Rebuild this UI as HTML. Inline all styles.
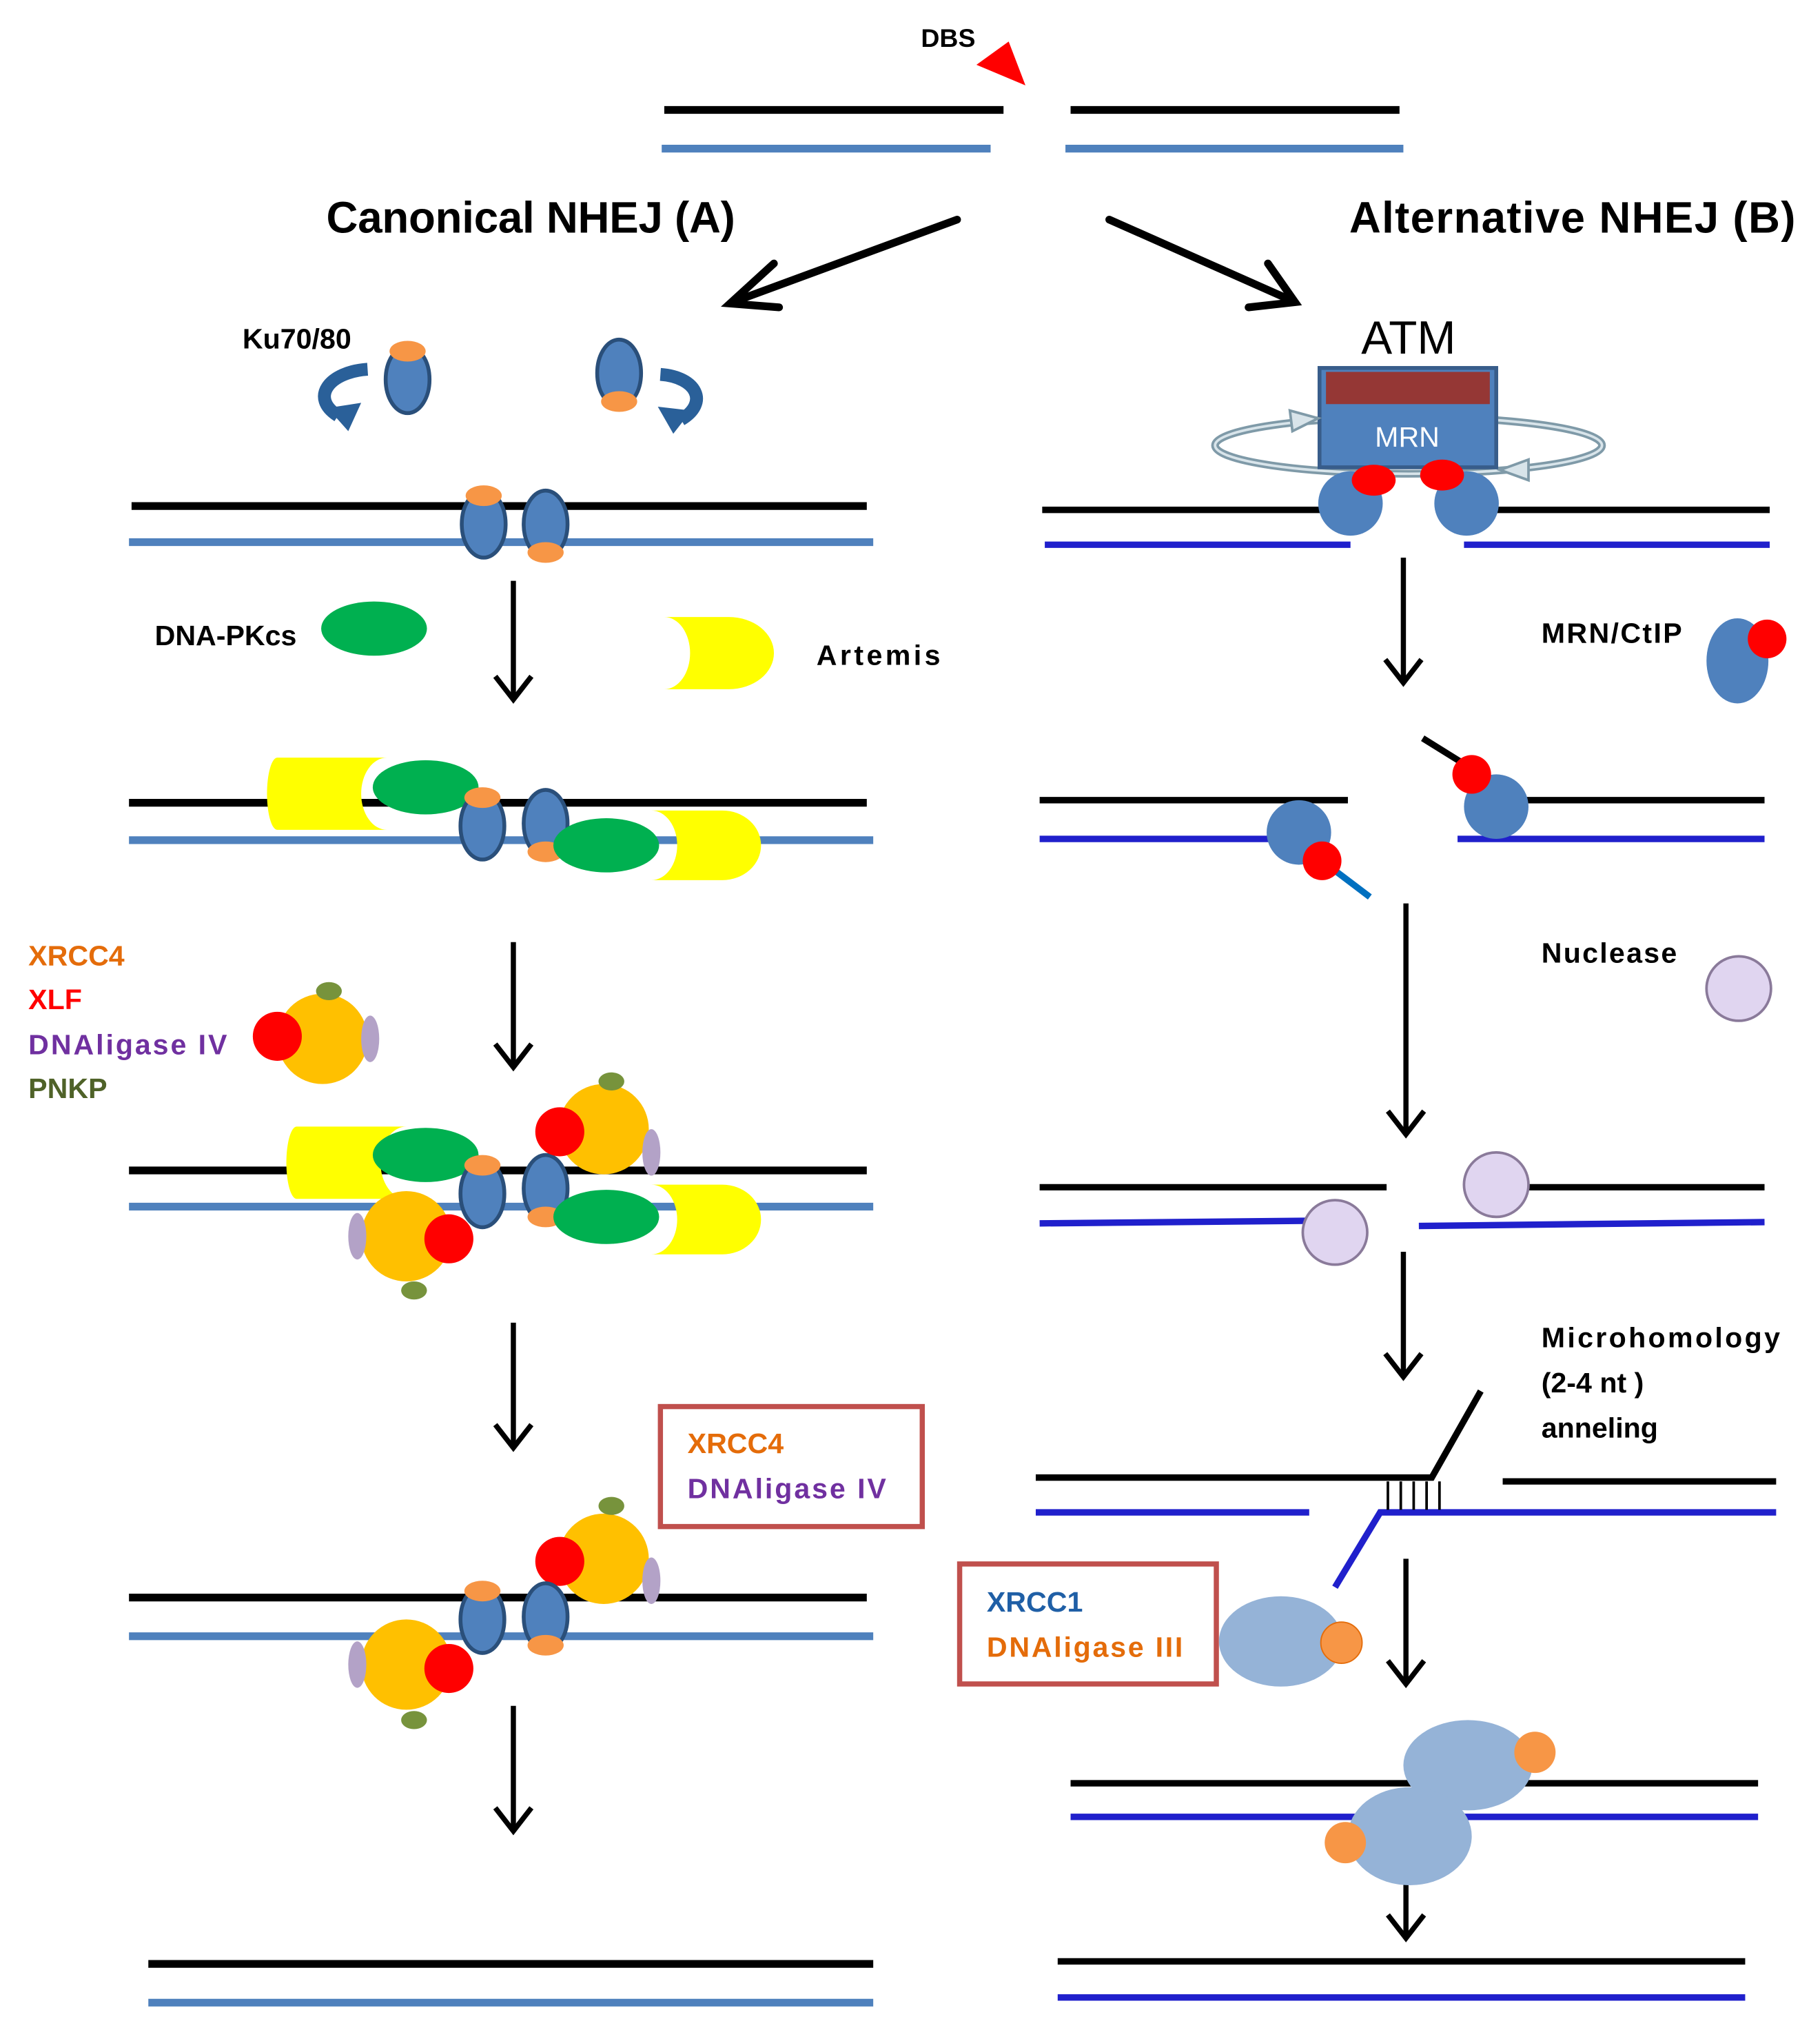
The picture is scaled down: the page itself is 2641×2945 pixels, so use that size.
<!DOCTYPE html>
<html><head><meta charset="utf-8">
<style>
html,body{margin:0;padding:0;background:#fff;}
svg{display:block;}
text{font-family:"Liberation Sans","DejaVu Sans",sans-serif;font-weight:bold;}
</style></head>
<body>
<svg width="2641" height="2945" viewBox="0 0 1411 1573" xmlns="http://www.w3.org/2000/svg">
<defs>
<g id="kuT"><ellipse cx="0" cy="0" rx="17" ry="26" fill="#4f81bd" stroke="#2a4f7a" stroke-width="3"/><ellipse cx="0" cy="-22" rx="14" ry="8" fill="#f79646"/></g>
<g id="kuB"><ellipse cx="0" cy="0" rx="17" ry="26" fill="#4f81bd" stroke="#2a4f7a" stroke-width="3"/><ellipse cx="0" cy="22" rx="14" ry="8" fill="#f79646"/></g>
<g id="grn"><ellipse cx="0" cy="0" rx="41" ry="21" fill="#00b050"/></g>
<g id="lig"><circle cx="0" cy="0" r="35" fill="#ffc000"/></g>
<g id="lav"><circle cx="0" cy="0" r="25" fill="#e0d5f0" stroke="#8a7a9a" stroke-width="2"/></g>
</defs>

<!-- TOP -->
<text x="714" y="36" font-size="20">DBS</text>
<polygon points="757,50 782,32 795,66" fill="#ff0000"/>
<g stroke-width="6">
<line x1="515" y1="85" x2="778" y2="85" stroke="#000"/>
<line x1="830" y1="85" x2="1085" y2="85" stroke="#000"/>
<line x1="513" y1="115" x2="768" y2="115" stroke="#4f81bd"/>
<line x1="826" y1="115" x2="1088" y2="115" stroke="#4f81bd"/>
</g>
<text x="253" y="180" font-size="34" textLength="317" lengthAdjust="spacing">Canonical NHEJ (A)</text>
<text x="1046" y="180" font-size="34" textLength="346" lengthAdjust="spacing">Alternative NHEJ (B)</text>

<g stroke="#000" stroke-width="6" fill="none" stroke-linecap="round">
<line x1="742" y1="170" x2="568" y2="234"/>
<polyline points="600,204 566,235 604,238"/>
<line x1="860" y1="170" x2="1002" y2="233"/>
<polyline points="968,238 1004,234 983,204"/>
</g>

<!-- LEFT column -->
<text x="188" y="270" font-size="22">Ku70/80</text>
<use href="#kuT" x="316" y="294"/>
<use href="#kuB" x="480" y="289"/>
<g fill="none" stroke="#2a6099" stroke-width="10">
<path d="M285,286 C255,288 240,308 262,322"/>
<path d="M512,290 C540,292 550,312 528,325"/>
</g>
<polygon points="254,316 280,312 270,334" fill="#2a6099"/>
<polygon points="536,318 510,315 522,336" fill="#2a6099"/>

<g stroke-width="6">
<line x1="102" y1="392" x2="672" y2="392" stroke="#000"/>
<line x1="100" y1="420" x2="677" y2="420" stroke="#4f81bd"/>
</g>
<use href="#kuT" x="375" y="406"/>
<use href="#kuB" x="423" y="406"/>

<g stroke="#000" stroke-width="4" fill="none">
<line x1="398" y1="450" x2="398" y2="540"/><polyline points="384,524 398,542 412,524"/>
<line x1="398" y1="730" x2="398" y2="825"/><polyline points="384,809 398,827 412,809"/>
<line x1="398" y1="1025" x2="398" y2="1120"/><polyline points="384,1104 398,1122 412,1104"/>
<line x1="398" y1="1322" x2="398" y2="1417"/><polyline points="384,1401 398,1419 412,1401"/>
</g>

<text x="120" y="500" font-size="22">DNA-PKcs</text>
<use href="#grn" x="290" y="487"/>
<path d="M515,478 H565 A35,28 0 0 1 565,534 H515 A20,28 0 0 0 515,478 Z" fill="#ffff00"/>
<text x="633" y="515" font-size="22" textLength="96" lengthAdjust="spacing">Artemis</text>

<!-- stage 3 -->
<g stroke-width="6">
<line x1="100" y1="622" x2="672" y2="622" stroke="#000"/>
<line x1="100" y1="651" x2="677" y2="651" stroke="#4f81bd"/>
</g>
<path d="M215,587 H300 A20,28 0 0 0 300,643 H215 A8,28 0 0 1 215,587 Z" fill="#ffff00"/>
<use href="#grn" x="330" y="610"/>
<path d="M505,628 H560 A30,27 0 0 1 560,682 H505 A20,27 0 0 0 505,628 Z" fill="#ffff00"/>
<use href="#kuT" x="374" y="640"/>
<use href="#kuB" x="423" y="638"/>
<use href="#grn" x="470" y="655"/>

<text x="22" y="748" font-size="22" fill="#e46c0a">XRCC4</text>
<text x="22" y="782" font-size="22" fill="#ff0000">XLF</text>
<text x="22" y="817" font-size="22" fill="#7030a0" textLength="154" lengthAdjust="spacing">DNAligase IV</text>
<text x="22" y="851" font-size="22" fill="#4f6228">PNKP</text>
<use href="#lig" x="250" y="805"/>
<ellipse cx="255" cy="768" rx="10" ry="7" fill="#77933c"/>
<ellipse cx="287" cy="805" rx="7" ry="18" fill="#b3a2c7"/>
<circle cx="215" cy="803" r="19" fill="#ff0000"/>

<!-- stage 4 -->
<g stroke-width="6">
<line x1="100" y1="907" x2="672" y2="907" stroke="#000"/>
<line x1="100" y1="935" x2="677" y2="935" stroke="#4f81bd"/>
</g>
<path d="M230,873 H315 A20,28 0 0 0 315,929 H230 A8,28 0 0 1 230,873 Z" fill="#ffff00"/>
<use href="#grn" x="330" y="895"/>
<path d="M505,918 H560 A30,27 0 0 1 560,972 H505 A20,27 0 0 0 505,918 Z" fill="#ffff00"/>
<use href="#kuT" x="374" y="925"/>
<use href="#kuB" x="423" y="921"/>
<use href="#grn" x="470" y="943"/>
<use href="#lig" x="468" y="875"/>
<ellipse cx="474" cy="838" rx="10" ry="7" fill="#77933c"/>
<ellipse cx="505" cy="893" rx="7" ry="18" fill="#b3a2c7"/>
<circle cx="434" cy="877" r="19" fill="#ff0000"/>
<use href="#lig" x="315" y="958"/>
<ellipse cx="321" cy="1000" rx="10" ry="7" fill="#77933c"/>
<ellipse cx="277" cy="958" rx="7" ry="18" fill="#b3a2c7"/>
<circle cx="348" cy="960" r="19" fill="#ff0000"/>

<rect x="512" y="1090" width="203" height="93" fill="#fff" stroke="#c0504d" stroke-width="4"/>
<text x="533" y="1126" font-size="22" fill="#e46c0a">XRCC4</text>
<text x="533" y="1161" font-size="22" fill="#7030a0" textLength="154" lengthAdjust="spacing">DNAligase IV</text>

<!-- stage 5 -->
<g stroke-width="6">
<line x1="100" y1="1238" x2="672" y2="1238" stroke="#000"/>
<line x1="100" y1="1268" x2="677" y2="1268" stroke="#4f81bd"/>
</g>
<use href="#lig" x="468" y="1208"/>
<ellipse cx="474" cy="1167" rx="10" ry="7" fill="#77933c"/>
<ellipse cx="505" cy="1225" rx="7" ry="18" fill="#b3a2c7"/>
<circle cx="434" cy="1210" r="19" fill="#ff0000"/>
<use href="#kuT" x="374" y="1255"/>
<use href="#kuB" x="423" y="1253"/>
<use href="#lig" x="315" y="1290"/>
<ellipse cx="321" cy="1333" rx="10" ry="7" fill="#77933c"/>
<ellipse cx="277" cy="1290" rx="7" ry="18" fill="#b3a2c7"/>
<circle cx="348" cy="1293" r="19" fill="#ff0000"/>

<g stroke-width="6">
<line x1="115" y1="1522" x2="677" y2="1522" stroke="#000"/>
<line x1="115" y1="1552" x2="677" y2="1552" stroke="#4f81bd"/>
</g>

<!-- RIGHT column -->
<text x="1092" y="274" font-size="36" text-anchor="middle" style="font-weight:normal">ATM</text>
<ellipse cx="1092" cy="345" rx="150" ry="22" fill="none" stroke="#7f9aa8" stroke-width="6"/>
<ellipse cx="1092" cy="345" rx="150" ry="22" fill="none" stroke="#d8e4ea" stroke-width="2"/>
<rect x="1023" y="285" width="137" height="77" fill="#4f81bd" stroke="#385d8a" stroke-width="3"/>
<rect x="1028" y="288" width="127" height="25" fill="#953735"/>
<text x="1091" y="346" font-size="22" fill="#fff" text-anchor="middle" style="font-weight:normal">MRN</text>
<polygon points="1000,318 1022,324 1002,334" fill="#d8e4ea" stroke="#7f9aa8" stroke-width="2"/>
<polygon points="1185,356 1163,364 1185,372" fill="#d8e4ea" stroke="#7f9aa8" stroke-width="2"/>
<g stroke-width="5">
<line x1="808" y1="395" x2="1048" y2="395" stroke="#000"/>
<line x1="1140" y1="395" x2="1372" y2="395" stroke="#000"/>
<line x1="810" y1="422" x2="1047" y2="422" stroke="#2020cc"/>
<line x1="1135" y1="422" x2="1372" y2="422" stroke="#2020cc"/>
</g>
<circle cx="1047" cy="390" r="25" fill="#4f81bd"/>
<circle cx="1137" cy="390" r="25" fill="#4f81bd"/>
<ellipse cx="1065" cy="372" rx="17" ry="12" fill="#ff0000"/>
<ellipse cx="1118" cy="368" rx="17" ry="12" fill="#ff0000"/>

<g stroke="#000" stroke-width="4" fill="none">
<line x1="1088" y1="432" x2="1088" y2="527"/><polyline points="1074,511 1088,529 1102,511"/>
<line x1="1090" y1="700" x2="1090" y2="877"/><polyline points="1076,861 1090,879 1104,861"/>
<line x1="1088" y1="970" x2="1088" y2="1065"/><polyline points="1074,1049 1088,1067 1102,1049"/>
<line x1="1090" y1="1208" x2="1090" y2="1303"/><polyline points="1076,1287 1090,1305 1104,1287"/>
<line x1="1090" y1="1445" x2="1090" y2="1500"/><polyline points="1076,1484 1090,1502 1104,1484"/>
</g>

<text x="1195" y="498" font-size="22" textLength="109" lengthAdjust="spacing">MRN/CtIP</text>
<ellipse cx="1347" cy="512" rx="24" ry="33" fill="#4f81bd"/>
<circle cx="1370" cy="495" r="15" fill="#ff0000"/>

<g stroke-width="5">
<line x1="806" y1="620" x2="1045" y2="620" stroke="#000"/>
<line x1="1160" y1="620" x2="1368" y2="620" stroke="#000"/>
<line x1="806" y1="650" x2="1000" y2="650" stroke="#2020cc"/>
<line x1="1130" y1="650" x2="1368" y2="650" stroke="#2020cc"/>
<line x1="1025" y1="667" x2="1062" y2="695" stroke="#0070c0"/>
<line x1="1103" y1="572" x2="1140" y2="595" stroke="#000"/>
</g>
<circle cx="1007" cy="645" r="25" fill="#4f81bd"/>
<circle cx="1025" cy="667" r="15" fill="#ff0000"/>
<circle cx="1160" cy="625" r="25" fill="#4f81bd"/>
<circle cx="1141" cy="600" r="15" fill="#ff0000"/>

<text x="1195" y="746" font-size="22" textLength="105" lengthAdjust="spacing">Nuclease</text>
<use href="#lav" x="1348" y="766"/>

<g stroke-width="5">
<line x1="806" y1="920" x2="1075" y2="920" stroke="#000"/>
<line x1="1150" y1="920" x2="1368" y2="920" stroke="#000"/>
<line x1="806" y1="948" x2="1012" y2="946" stroke="#2020cc"/>
<line x1="1100" y1="950" x2="1368" y2="947" stroke="#2020cc"/>
</g>
<use href="#lav" x="1035" y="955"/>
<use href="#lav" x="1160" y="918"/>

<text x="1195" y="1044" font-size="22" textLength="185" lengthAdjust="spacing">Microhomology</text>
<text x="1195" y="1079" font-size="22">(2-4 nt )</text>
<text x="1195" y="1114" font-size="22">anneling</text>

<g stroke-width="5" fill="none">
<polyline points="803,1145 1110,1145 1148,1078" stroke="#000"/>
<line x1="1165" y1="1148" x2="1377" y2="1148" stroke="#000"/>
<line x1="803" y1="1172" x2="1015" y2="1172" stroke="#2020cc"/>
<polyline points="1035,1230 1070,1172 1377,1172" stroke="#2020cc"/>
</g>
<g stroke="#000" stroke-width="2">
<line x1="1076" y1="1148" x2="1076" y2="1170"/>
<line x1="1086" y1="1148" x2="1086" y2="1170"/>
<line x1="1096" y1="1148" x2="1096" y2="1170"/>
<line x1="1106" y1="1148" x2="1106" y2="1170"/>
<line x1="1116" y1="1148" x2="1116" y2="1170"/>
</g>

<rect x="744" y="1212" width="199" height="93" fill="#fff" stroke="#c0504d" stroke-width="4"/>
<text x="765" y="1249" font-size="22" fill="#1f5fa6">XRCC1</text>
<text x="765" y="1284" font-size="22" fill="#e46c0a" textLength="152" lengthAdjust="spacing">DNAligase III</text>
<ellipse cx="993" cy="1272" rx="48" ry="35" fill="#95b3d7"/>
<circle cx="1040" cy="1273" r="16" fill="#f79646" stroke="#e46c0a" stroke-width="1"/>

<g stroke-width="5">
<line x1="830" y1="1382" x2="1363" y2="1382" stroke="#000"/>
<line x1="830" y1="1408" x2="1363" y2="1408" stroke="#2020cc"/>
</g>
<ellipse cx="1138" cy="1368" rx="50" ry="35" fill="#95b3d7"/>
<ellipse cx="1093" cy="1423" rx="48" ry="38" fill="#95b3d7"/>
<circle cx="1190" cy="1358" r="16" fill="#f79646"/>
<circle cx="1043" cy="1428" r="16" fill="#f79646"/>

<g stroke-width="5">
<line x1="820" y1="1520" x2="1353" y2="1520" stroke="#000"/>
<line x1="820" y1="1548" x2="1353" y2="1548" stroke="#2020cc"/>
</g>
</svg>
</body></html>
